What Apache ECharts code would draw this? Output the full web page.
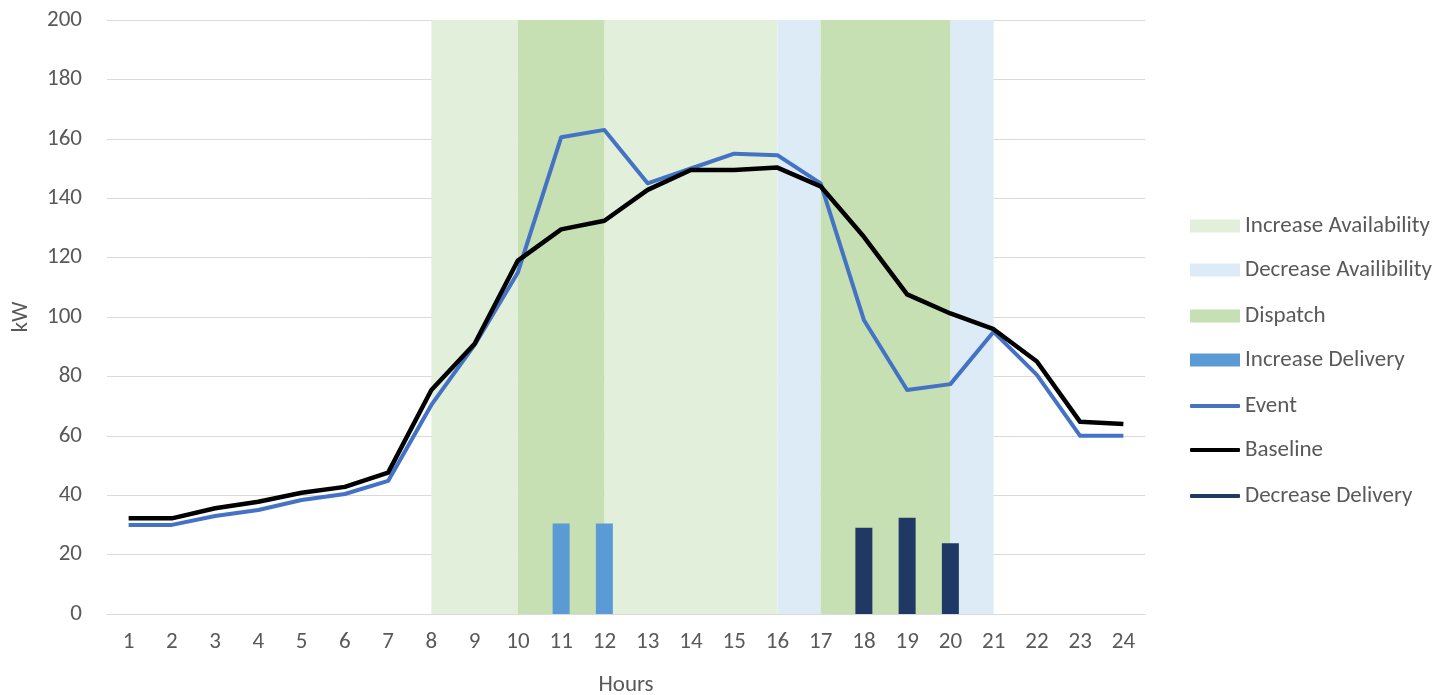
<!DOCTYPE html>
<html>
<head>
<meta charset="utf-8">
<script src="https://cdn.jsdelivr.net/npm/echarts@6/dist/echarts.min.js"></script>
<style>
  html, body { margin: 0; padding: 0; background: #ffffff; }
  #chart { width: 1446px; height: 695px; }
</style>
</head>
<body>
<div id="chart"></div>
<script>
// Hourly load profile (kW) with flexibility windows
const hours = ['1','2','3','4','5','6','7','8','9','10','11','12','13','14','15','16','17','18','19','20','21','22','23','24'];

const eventLoad = [30, 30, 33, 35, 38.4, 40.4, 44.8, 70.4, 90.6, 115, 160.5, 163, 145, 150, 155, 154.5, 145, 99, 75.4, 77.4, 95, 80.5, 60, 60];
const baselineLoad = [32.2, 32.2, 35.6, 37.8, 40.8, 42.8, 47.6, 75.4, 91, 119, 129.5, 132.4, 142.8, 149.5, 149.5, 150.3, 144, 127, 107.6, 101.2, 95.9, 85, 64.7, 64];

const increaseDelivery = [null, null, null, null, null, null, null, null, null, null, 30.5, 30.5, null, null, null, null, null, null, null, null, null, null, null, null];
const decreaseDelivery = [null, null, null, null, null, null, null, null, null, null, null, null, null, null, null, null, null, 29, 32.4, 23.8, null, null, null, null];

// Time windows, given as [from hour, to hour]
const increaseAvailability = [['8', '10'], ['12', '16']];
const decreaseAvailability = [['16', '17'], ['20', '21']];
const dispatchWindows = [['10', '12'], ['17', '20']];

const yTicks = { min: 0, max: 200, interval: 20 };

const FONT = 'Carlito, Lato, "Noto Sans", sans-serif';
const TEXT = '#595959';
const FS = 23;

const colors = {
  incAvail: '#E2EFDA',
  decAvail: '#DDEBF7',
  dispatch: '#C6E0B4',
  incDel: '#5B9BD5',
  event: '#4472C4',
  baseline: '#000000',
  decDel: '#203864'
};

function windowArea(name, color, spans) {
  return {
    name: name,
    type: 'line',
    data: [],
    color: color,
    z: 1,
    markArea: {
      silent: true,
      itemStyle: { color: color, opacity: 1 },
      data: spans.map(s => [{ xAxis: s[0] }, { xAxis: s[1] }])
    }
  };
}

// Legend entries: name, icon, vertical centre
const legendItems = [
  ['Increase Availability', 'rect', 226],
  ['Decrease Availibility', 'rect', 270],
  ['Dispatch', 'rect', 316],
  ['Increase Delivery', 'rect', 360],
  ['Event', 'roundRect', 406],
  ['Baseline', 'roundRect', 450],
  ['Decrease Delivery', 'roundRect', 496]
];

const legends = legendItems.map(([name, icon, cy]) => {
  const h = icon === 'rect' ? 13 : 4;
  return {
    data: [{ name: name, icon: icon }],
    left: 1190,
    top: cy - 14,
    itemWidth: 50,
    itemHeight: h,
    selectedMode: false,
    padding: 0,
    textStyle: { fontFamily: FONT, fontSize: FS, color: TEXT, lineHeight: 28 }
  };
});

const chart = echarts.init(document.getElementById('chart'), null, { renderer: 'canvas' });

chart.setOption({
  animation: false,
  backgroundColor: '#ffffff',
  textStyle: { fontFamily: FONT },
  legend: legends,
  grid: { left: 107, right: 301, top: 20, bottom: 81, containLabel: false, outerBoundsMode: 'none' },
  xAxis: {
    type: 'category',
    data: hours,
    boundaryGap: true,
    name: 'Hours',
    nameLocation: 'middle',
    nameGap: 60,
    nameTextStyle: { fontFamily: FONT, fontSize: FS, color: TEXT },
    axisLine: { lineStyle: { color: '#D9D9D9', width: 1 } },
    axisTick: { show: false },
    axisLabel: { fontFamily: FONT, fontSize: FS, color: TEXT, margin: 17 },
    splitLine: { show: false }
  },
  yAxis: {
    type: 'value',
    min: yTicks.min,
    max: yTicks.max,
    interval: yTicks.interval,
    name: 'kW',
    nameLocation: 'middle',
    nameGap: 74,
    nameRotate: 90,
    nameTextStyle: { fontFamily: FONT, fontSize: FS, color: TEXT },
    axisLine: { show: false },
    axisTick: { show: false },
    axisLabel: { fontFamily: FONT, fontSize: FS, color: TEXT, margin: 25 },
    splitLine: { lineStyle: { color: '#D9D9D9', width: 1 } }
  },
  series: [
    windowArea('Increase Availability', colors.incAvail, increaseAvailability),
    windowArea('Decrease Availibility', colors.decAvail, decreaseAvailability),
    windowArea('Dispatch', colors.dispatch, dispatchWindows),
    {
      name: 'Increase Delivery',
      type: 'bar',
      data: increaseDelivery,
      color: colors.incDel,
      barWidth: 17,
      barGap: '-100%',
      z: 3
    },
    {
      name: 'Decrease Delivery',
      type: 'bar',
      data: decreaseDelivery,
      color: colors.decDel,
      barWidth: 17,
      barGap: '-100%',
      z: 3
    },
    {
      name: 'Event',
      type: 'line',
      data: eventLoad,
      color: colors.event,
      symbol: 'none',
      lineStyle: { width: 4, color: colors.event, join: 'round' },
      z: 4
    },
    {
      name: 'Baseline',
      type: 'line',
      data: baselineLoad,
      color: colors.baseline,
      symbol: 'none',
      lineStyle: { width: 4.5, color: colors.baseline, join: 'round' },
      z: 5
    }
  ]
});
</script>
</body>
</html>
